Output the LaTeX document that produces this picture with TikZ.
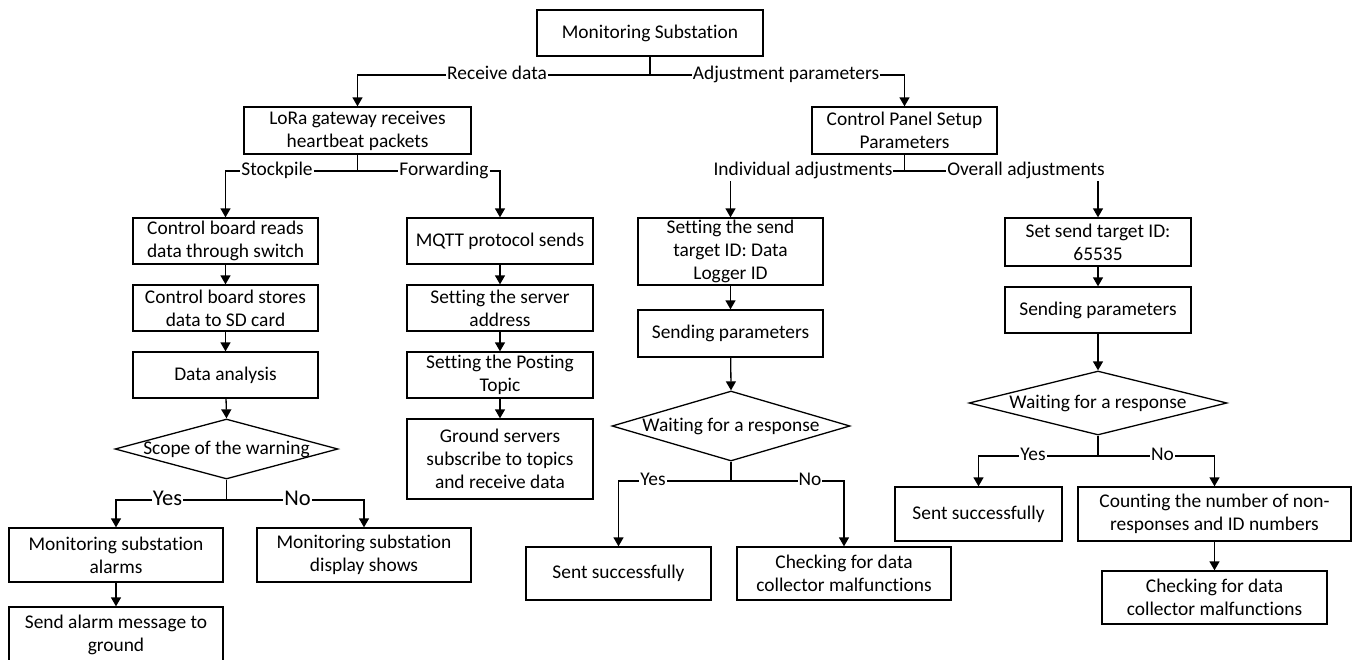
\documentclass[tikz,border=0pt]{standalone}
\usepackage{fontspec}
\setmainfont{Carlito}[Ligatures={NoCommon,NoContextual},RawFeature={-liga;-clig;-calt;-dlig}]
\usetikzlibrary{arrows.meta,shapes.geometric}

\begin{document}
\begin{tikzpicture}[x=1pt,y=-1pt,
  every node/.style={font=\fontsize{19.4}{23}\selectfont},
  box/.style={draw,line width=1.3pt,inner sep=0pt,align=center},
  decision/.style={draw,diamond,line width=1.3pt,inner sep=0pt},
  conn/.style={line width=1.3pt},
  arr/.style={line width=1.3pt,-{Triangle[width=10pt,length=9pt]}},
  lab/.style={fill=white,inner sep=1pt,text height=13.6pt,text depth=4.8pt},
  biglab/.style={fill=white,inner sep=1pt,text height=15.8pt,text depth=5.6pt,
    font=\fontsize{22.5}{26}\selectfont}]

\useasboundingbox (0,0) rectangle (1352,659);

% top level
\node[box,minimum width=226pt,minimum height=46pt] (ms) at (650,33) {Monitoring Substation};
\node[box,minimum width=227pt,minimum height=47pt] (lora) at (357.5,130.5) {LoRa gateway receives\\heartbeat packets};
\node[box,minimum width=185pt,minimum height=47pt] (cps) at (904.5,130.5) {Control Panel Setup\\Parameters};

% stockpile branch
\node[box,minimum width=185pt,minimum height=46pt] (crb) at (225.5,241) {Control board reads\\data through switch};
\node[box,minimum width=185pt,minimum height=46pt] (csb) at (225.5,308) {Control board stores\\data to SD card};
\node[box,minimum width=185pt,minimum height=46pt] (da) at (225.5,375) {Data analysis};
\node[decision,minimum width=223pt,minimum height=60pt] (warn) at (226.5,449) {\makebox[0pt]{Scope of the warning}};
\node[box,minimum width=214pt,minimum height=54pt] (msa) at (116,555) {Monitoring substation\\alarms};
\node[box,minimum width=214pt,minimum height=54pt] (msd) at (364,555) {Monitoring substation\\display shows};
\node[box,minimum width=214pt,minimum height=56pt] (sam) at (116,635) {Send alarm message to\\ground};

% forwarding branch
\node[box,minimum width=186pt,minimum height=46pt] (mqtt) at (500,241) {MQTT protocol sends};
\node[box,minimum width=186pt,minimum height=46pt] (ssa) at (500,308) {Setting the server\\address};
\node[box,minimum width=186pt,minimum height=46pt] (spt) at (500,375) {Setting the Posting\\Topic};
\node[box,minimum width=186pt,minimum height=80pt] (gs) at (500,459) {Ground servers\\subscribe to topics\\and receive data};

% individual adjustments
\node[box,minimum width=185pt,minimum height=67pt] (sti) at (730.5,251.5) {Setting the send\\target ID: Data\\Logger ID};
\node[box,minimum width=185pt,minimum height=47pt] (sp1) at (730.5,333.5) {Sending parameters};
\node[decision,minimum width=238pt,minimum height=70pt] (wr1) at (731,426) {\makebox[0pt]{Waiting for a response}};
\node[box,minimum width=185pt,minimum height=53pt] (ss1) at (618.5,573.5) {Sent successfully};
\node[box,minimum width=214pt,minimum height=53pt] (cf1) at (844,573.5) {Checking for data\\collector malfunctions};

% overall adjustments
\node[box,minimum width=186pt,minimum height=48pt] (sti2) at (1098,242) {Set send target ID:\\65535};
\node[box,minimum width=186pt,minimum height=46pt] (sp2) at (1098,310) {Sending parameters};
\node[decision,minimum width=258pt,minimum height=64pt] (wr2) at (1098,403) {\makebox[0pt]{Waiting for a response}};
\node[box,minimum width=167pt,minimum height=54pt] (ss2) at (978.5,514) {Sent successfully};
\node[box,minimum width=273pt,minimum height=54pt] (cnt) at (1214.5,514) {Counting the number of non-\\responses and ID numbers};
\node[box,minimum width=225pt,minimum height=53pt] (cf2) at (1214.5,597.5) {Checking for data\\collector malfunctions};

% branch points
\coordinate (j0) at (650,75);
\coordinate (j1) at (357.5,171);
\coordinate (j2) at (904.5,171);
\coordinate (j3) at (226.5,500);
\coordinate (j4) at (731,481);
\coordinate (j5) at (1098,456);

% connectors
\draw[conn] (ms.south) -- (j0);
\draw[arr] (j0) -| (lora.north);
\draw[arr] (j0) -| (cps.north);

\draw[conn] (lora.south) -- (j1);
\draw[arr] (j1) -| (crb.north);
\draw[arr] (j1) -| (mqtt.north);

\draw[conn] (cps.south) -- (j2);
\draw[arr] (j2) -| (sti.north);
\draw[arr] (j2) -| (sti2.north);

\draw[arr] (crb) -- (csb);
\draw[arr] (csb) -- (da);
\draw[arr] (da) -- (warn.north);
\draw[conn] (warn.south) -- (j3);
\draw[arr] (j3) -| (msa.north);
\draw[arr] (j3) -| (msd.north);
\draw[arr] (msa) -- (sam);

\draw[arr] (mqtt) -- (ssa);
\draw[arr] (ssa) -- (spt);
\draw[arr] (spt) -- (gs);

\draw[arr] (sti) -- (sp1);
\draw[arr] (sp1) -- (wr1.north);
\draw[conn] (wr1.south) -- (j4);
\draw[arr] (j4) -| (ss1.north);
\draw[arr] (j4) -| (cf1.north);

\draw[arr] (sti2) -- (sp2);
\draw[arr] (sp2) -- (wr2.north);
\draw[conn] (wr2.south) -- (j5);
\draw[arr] (j5) -| (ss2.north);
\draw[arr] (j5) -| (cnt.north);
\draw[arr] (cnt) -- (cf2);

% connector labels
\node[lab] (lrd) at (497,75) {Receive data};
\node[lab] (lap) at (786,75) {Adjustment parameters};
\node[lab] (lst) at (277,171) {Stockpile};
\node[lab] (lfw) at (444,171) {Forwarding};
\node[lab] (lia) at (803,171) {Individual adjustments};
\node[lab] (loa) at (1026,171) {Overall adjustments};
\node[biglab] (ly0) at (167.5,500) {Yes};
\node[biglab] (ln0) at (297.5,500) {No};
\node[lab] (ly1) at (653,481) {Yes};
\node[lab] (ln1) at (810,481) {No};
\node[lab] (ly2) at (1033,456) {Yes};
\node[lab] (ln2) at (1162.5,456) {No};
\end{tikzpicture}
\end{document}
